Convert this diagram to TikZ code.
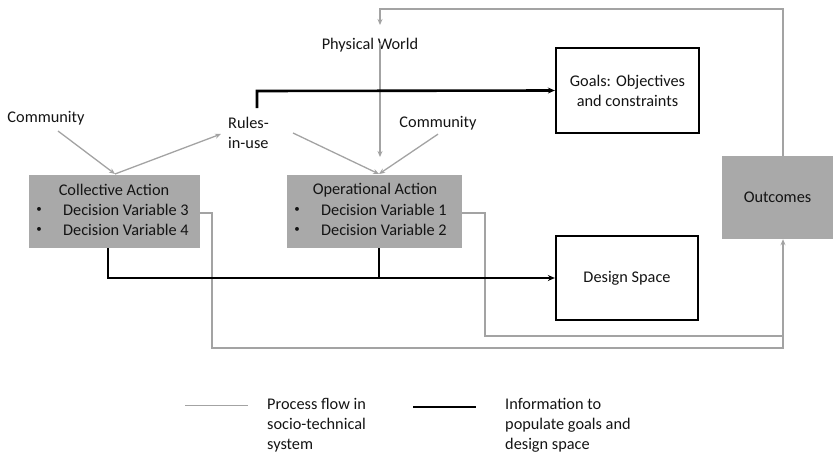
\documentclass[tikz,border=0pt]{standalone}
\usepackage{fontspec}
\setmainfont{Carlito}
\usetikzlibrary{arrows.meta,positioning}
\definecolor{boxgray}{HTML}{A9A9A9}
\definecolor{linegray}{HTML}{A3A3A3}
\definecolor{txt}{HTML}{141414}
\begin{document}
\begin{tikzpicture}[x=1pt,y=-1pt,
  every node/.style={font=\fontsize{16.3}{20}\selectfont, text=txt, inner sep=0pt},
  graybox/.style={draw=none, fill=boxgray},
  whitebox/.style={draw=black, line width=2.3pt, fill=white},
  proc/.style={draw=linegray, line width=1.3pt},
  procarrow/.style={proc, -{Stealth[length=6pt,width=5pt]}},
  info/.style={draw=black, line width=2.6pt},
  infoarrow/.style={info, -{Stealth[length=7pt,width=6pt]}},
  lbl/.style={align=left, anchor=west},
  bul/.style={font=\fontsize{11}{12}\selectfont}
]
\useasboundingbox (0,0) rectangle (834,455);

% boxes
\node[graybox, minimum width=171pt, minimum height=73pt] (coll) at (114.5,211.5) {};
\node[graybox, minimum width=175pt, minimum height=73pt] (oper) at (374.5,211.5) {};
\node[graybox, minimum width=111pt, minimum height=83pt] (outc) at (777.5,197.5) {Outcomes};
\node[whitebox, minimum width=143pt, minimum height=85pt, align=center] (goals) at (627.5,90.5) {Goals: Objectives\\and constraints};
\node[whitebox, minimum width=142pt, minimum height=84pt] (design) at (627,278) {Design Space};

% box texts
\node (collT) at (114,190) {Collective Action};
\node[bul] (collB1) at (39,210) {\textbullet};
\node[bul] (collB2) at (39,230) {\textbullet};
\node[anchor=west] (collD3) at (63,210) {Decision Variable 3};
\node[anchor=west] (collD4) at (63,230) {Decision Variable 4};
\node (operT) at (375,190) {Operational Action};
\node[bul] (operB1) at (297,210) {\textbullet};
\node[bul] (operB2) at (297,230) {\textbullet};
\node[anchor=west] (operD1) at (321,210) {Decision Variable 1};
\node[anchor=west] (operD2) at (321,230) {Decision Variable 2};

% free labels
\node (commL) at (46,118) {Community};
\node[lbl] (rules) at (228,133) {Rules-\\in-use};
\node (phys) at (370,45) {Physical World};
\node (commR) at (438,123) {Community};

% coordinates
\coordinate (cTop) at (115,174);
\coordinate (oTop) at (379,174);
\coordinate (physTop) at (380,25);
\coordinate (physBot) at (380,157);

% process flow (gray)
\draw[procarrow] (58,131) -- (cTop);
\draw[procarrow] (cTop) -- (221,134);
\draw[procarrow] (293,133) -- (oTop);
\draw[procarrow] (commR.south) ++(0,4) -- (oTop);
\draw[procarrow] (380,43) -- (physBot);
\draw[procarrow] (outc.north -| 783,0) -- (783,9) -- (380,9) -- (physTop);
\draw[procarrow] (coll.east |- 0,213) -- (212,213) -- (212,348) -- (783,348) -- (outc.south -| 783,0);
\draw[proc] (oper.east |- 0,213) -- (485,213) -- (485,336) -- (783,336);

% information flow (black)
\draw[infoarrow] (257,108) -- (257,91) -- (goals.west);
\draw[infoarrow] (coll.south -| 108,0) -- (108,278) -- (design.west);
\draw[info] (oper.south -| 379,0) -- (379,278);

% legend
\coordinate (lg1a) at (185,405);
\coordinate (lg1b) at (248,405);
\draw[proc, line width=1pt] (lg1a) -- (lg1b);
\node[lbl] (leg1) at (267,425) {Process flow in\\socio-technical\\system};
\coordinate (lg2a) at (413,407);
\coordinate (lg2b) at (476,407);
\draw[info] (lg2a) -- (lg2b);
\node[lbl] (leg2) at (505,425) {Information to\\populate goals and\\design space};
\end{tikzpicture}
\end{document}
